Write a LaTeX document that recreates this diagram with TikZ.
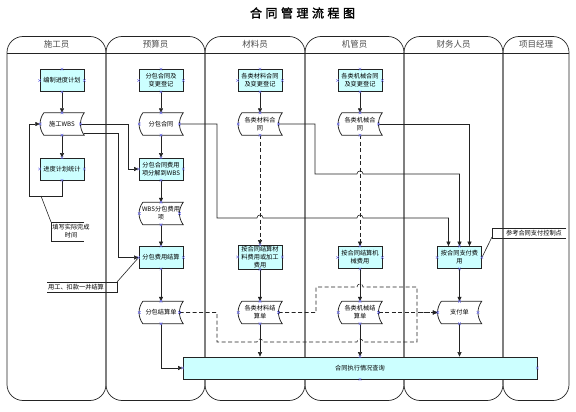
\documentclass[tikz,border=0pt]{standalone}
\usepackage{fontspec}
\setmainfont{Noto Sans CJK SC}[AutoFakeBold=2]
\usetikzlibrary{arrows.meta,calc}
\definecolor{cy}{RGB}{204,255,255}
\definecolor{mkc}{RGB}{110,110,235}
\definecolor{ln}{RGB}{35,35,35}
\newcommand\cpm[1]{\draw[mk] ([shift={(-1.3pt,-1.3pt)}]#1) -- ([shift={(1.3pt,1.3pt)}]#1) ([shift={(-1.3pt,1.3pt)}]#1) -- ([shift={(1.3pt,-1.3pt)}]#1);}
\newcommand\docout[1]{\draw[docln] ([xshift=4pt]#1.north west) -- (#1.north east) .. controls ([xshift=-5pt,yshift=-7pt]#1.north east) and ([xshift=-5pt,yshift=7pt]#1.south east) .. (#1.south east) -- ([xshift=4pt]#1.south west) .. controls ([xshift=-1pt,yshift=7pt]#1.south west) and ([xshift=-1pt,yshift=-7pt]#1.north west) .. ([xshift=4pt]#1.north west);}
\tikzset{
  lane/.style={draw=ln, line width=0.7pt, rounded corners=16pt},
  hdr/.style={font=\fontsize{8.5}{10}\selectfont, text=black!70},
  proc/.style={draw=ln, fill=cy, line width=0.75pt, minimum width=44pt, minimum height=22pt, inner sep=0pt, align=center, font=\fontsize{6.2}{8}\selectfont},
  docn/.style={minimum width=44pt, minimum height=22pt, inner sep=0pt, align=center, font=\fontsize{6.2}{8}\selectfont},
  docln/.style={draw=ln, line width=0.75pt},
  note/.style={inner sep=0pt, align=center, font=\fontsize{6.2}{8}\selectfont},
  cn/.style={draw=ln, line width=0.6pt},
  arr/.style={-{Triangle[length=4.5pt,width=4pt]}},
  dsh/.style={dash pattern=on 4pt off 2.5pt},
  mk/.style={draw=mkc, line width=0.45pt},
}
\begin{document}
\begin{tikzpicture}[x=1pt,y=-1pt]
\useasboundingbox (0,0) rectangle (576,412);
% title
\node[font=\fontsize{12}{14}\selectfont\bfseries] (title) at (302.5,13) {合\hspace{3.5pt}同\hspace{3.5pt}管\hspace{3.5pt}理\hspace{3.5pt}流\hspace{3.5pt}程\hspace{3.5pt}图};
% lanes
\foreach \a/\b/\t [count=\i] in {7/106/施工员, 106/205/预算员, 205/305/材料员, 305/404/机管员, 404/503/财务人员, 503/569/项目经理} {
  \draw[lane] (\a,36.5) rectangle (\b,400.5);
  \draw[draw=ln, line width=0.7pt] (\a,53.3) -- (\b,53.3);
  \node[hdr] (hd\i) at ({(\a+\b)/2},44.5) {\t};
}
% nodes
\node[proc] (bzjh) at (62,80.5) {编制进度计划};
\node[docn] (sgwbs) at (62,124) {施工WBS};
\node[proc] (jdtj) at (62,169) {进度计划统计};
\node[proc] (fbdj) at (161,80.5) {分包合同及\\变更登记};
\node[docn] (fbht) at (161,124) {分包合同};
\node[proc] (fbfj) at (161,169) {分包合同费用\\项分解到WBS};
\node[docn] (wbsfy) at (161,213.5) {WBS分包费用\\项};
\node[proc] (fbjs) at (161,257.5) {分包费用结算};
\node[docn] (fbjsd) at (161,312.5) {分包结算单};
\node[proc] (cldj) at (260,80.5) {各类材料合同\\及变更登记};
\node[docn] (clht) at (260,124) {各类材料合\\同};
\node[proc, minimum height=24pt] (cljs) at (260,257) {按合同结算材\\料费用或加工\\费用};
\node[docn] (cljsd) at (260,312.5) {各类材料结\\算单};
\node[proc] (jxdj) at (360,80.5) {各类机械合同\\及变更登记};
\node[docn] (jxht) at (360,124) {各类机械合\\同};
\node[proc] (jxjs) at (360,257.5) {按合同结算机\\械费用};
\node[docn] (jxjsd) at (360,312.5) {各类机械结\\算单};
\node[proc] (zffy) at (459.5,257.5) {按合同支付费\\用};
\node[docn] (zfd) at (459.5,312.5) {支付单};
\node[proc, minimum width=354pt, minimum height=22pt] (bar) at (360,368) {合同执行情况查询};
\foreach \n in {sgwbs,fbht,wbsfy,fbjsd,clht,cljsd,jxht,jxjsd,zfd} {\docout{\n}}
% notes
\node[note] (n1) at (71,231.5) {填写实际完成\\时间};
\draw[cn] (84,222) -- (51,222) -- (51,241) -- (84,241);
\node[note] (n2) at (76,287) {用工、扣款一并结算};
\draw[cn] (47,282) -- (117,282) -- (117,292) -- (47,292);
\node[note] (n3) at (534,233) {参考合同支付控制点};
\draw[cn] (566,228) -- (492,228) -- (492,238) -- (566,238);
\coordinate (c1a) at (41,196);
\coordinate (c1b) at (51,222);
\coordinate (c2a) at (117,282);
\coordinate (c3b) at (492,237);
\draw[cn] (c1a) -- (c1b);
\draw[cn] (c2a) -- (fbjs.west);
\draw[cn] (zffy.east) -- (c3b);
% lane 1 flows
\draw[cn,arr] (bzjh.south) -- (sgwbs.north);
\draw[cn,arr] (sgwbs.south) -- (jdtj.north);
\draw[cn,arr] (jdtj.south) |- (29,196) |- (sgwbs.west);
\draw[cn,arr] ([xshift=-3.7pt]sgwbs.east) -| (128,169) -- (fbfj.west);
\draw[cn,arr] ([yshift=-9pt]sgwbs.east) -| (118,257.5) -- (fbjs.west);
% lane 2 flows
\draw[cn,arr] (fbdj.south) -- (fbht.north);
\draw[cn,arr] (fbht.south) -- (fbfj.north);
\draw[cn,arr] (fbfj.south) -- (wbsfy.north);
\draw[cn,arr] (wbsfy.south) -- (fbjs.north);
\draw[cn,arr] (fbjs.south) -- (fbjsd.north);
\draw[cn,arr] (fbjsd.south) |- (bar.west);
% lane 3/4 flows
\draw[cn,arr] (cldj.south) -- (clht.north);
\draw[cn,arr] (jxdj.south) -- (jxht.north);
\draw[cn,dsh,arr] (clht.south) -- (cljs.north);
\draw[cn,dsh,arr] (jxht.south) -- (jxjs.north);
\draw[cn,arr] (cljs.south) -- (cljsd.north);
\draw[cn,arr] (jxjs.south) -- (jxjsd.north);
\draw[cn,arr] (zffy.south) -- (zfd.north);
\draw[cn,arr] (cljsd.south) -- (cljsd.south |- bar.north);
\draw[cn,arr] (jxjsd.south) -- (jxjsd.south |- bar.north);
\draw[cn,arr] (zfd.south) -- (zfd.south |- bar.north);
% contracts to payment
\draw[cn,arr] ([xshift=-3.7pt]fbht.east) -| (217,218) -- (257,218) .. controls (257,214) and (263,214) .. (263,218) -- (357,218) .. controls (357,214) and (363,214) .. (363,218) -| ([xshift=-11pt]zffy.north);
\draw[cn,arr] ([xshift=-3.7pt]clht.east) -| (315,174) -- (357,174) .. controls (357,170) and (363,170) .. (363,174) -| (zffy.north);
\draw[cn,arr] ([xshift=-3.7pt]jxht.east) -| ([xshift=10pt]zffy.north);
% settlement to payment slip (dashed)
\draw[cn,dsh,arr] ([xshift=-3.7pt]fbjsd.east) -| (217,342) -- (257,342) .. controls (257,338) and (263,338) .. (263,342) -- (357,342) .. controls (357,338) and (363,338) .. (363,342) -| (417,312.5) -- (zfd.west);
\draw[cn,dsh,arr] ([xshift=-3.7pt]cljsd.east) -| (316,287) -- (357,287) .. controls (357,283) and (363,283) .. (363,287) -| (417,312.5) -- (zfd.west);
\draw[cn,dsh,arr] ([xshift=-3.7pt]jxjsd.east) -- (zfd.west);
% connection point markers
\foreach \n in {bzjh,jdtj,fbdj,fbfj,fbjs,cldj,cljs,jxdj,jxjs,zffy,bar} {
  \cpm{\n.north} \cpm{\n.south} \cpm{\n.east} \cpm{\n.west}
}
\foreach \n in {sgwbs,fbht,wbsfy,fbjsd,clht,cljsd,jxht,jxjsd,zfd} {
  \coordinate (\n-e) at ([xshift=-3.7pt]\n.east);
  \coordinate (\n-w) at ([xshift=0.5pt]\n.west);
  \cpm{\n.north} \cpm{\n.south} \cpm{\n-e} \cpm{\n-w}
}
\end{tikzpicture}
\end{document}
